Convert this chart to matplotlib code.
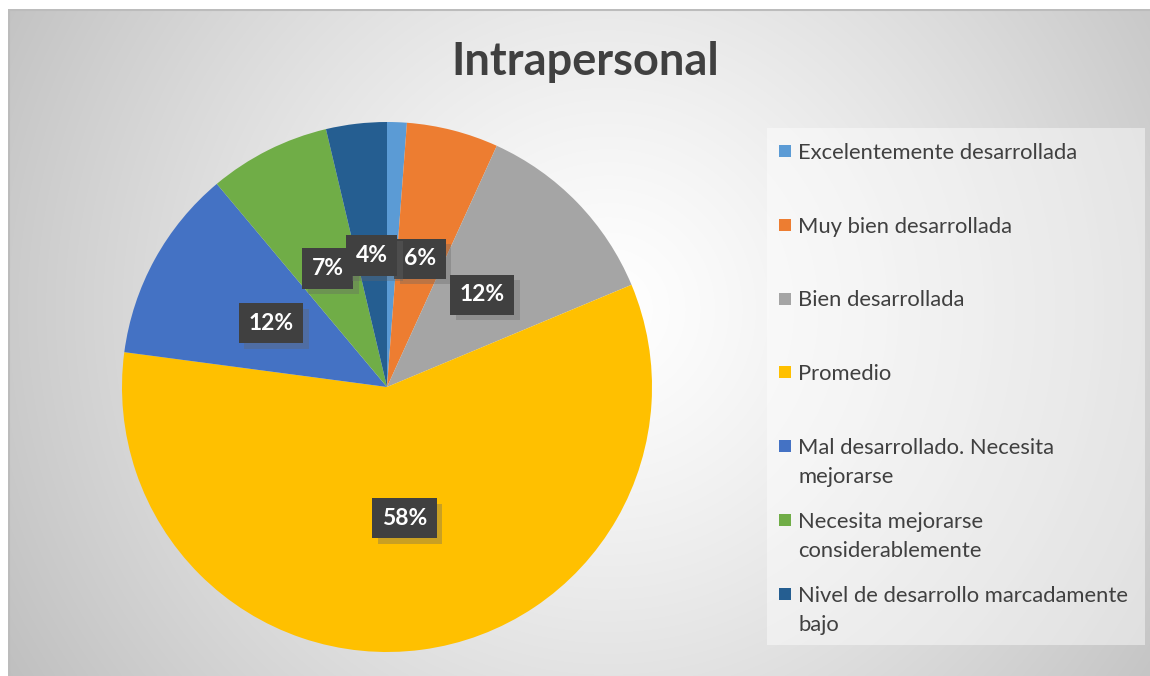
import numpy as np
import matplotlib
matplotlib.use("Agg")
import matplotlib.pyplot as plt
from matplotlib.patches import Rectangle
import matplotlib.patheffects as pe

plt.rcParams['font.family'] = ['Lato', 'DejaVu Sans']

title = "Intrapersonal"
categories = ["Excelentemente desarrollada", "Muy bien desarrollada", "Bien desarrollada",
              "Promedio", "Mal desarrollado. Necesita\nmejorarse",
              "Necesita mejorarse\nconsiderablemente",
              "Nivel de desarrollo marcadamente\nbajo"]
values = [1.2, 5.6, 11.9, 58.4, 11.8, 7.4, 3.7]
colors = ["#5B9BD5", "#ED7D31", "#A5A5A5", "#FFC000", "#4472C4", "#70AD47", "#255E91"]

W, H = 1150, 676
fig = plt.figure(figsize=(W / 100, H / 100), dpi=100)
fig.patch.set_facecolor("white")

# background with radial gradient
bx0, by_top = 8, 9
ax_bg = fig.add_axes([bx0 / W, 0, 1 - bx0 / W, 1 - by_top / H])
ax_bg.set_axis_off()
gw, gh = W - bx0, H - by_top
yy, xx = np.mgrid[0:gh, 0:gw]
cx, cy = 600, 300
d = np.sqrt((xx - cx) ** 2 + (yy - cy) ** 2) / 660.0
v = 1.0 - 0.23 * np.clip(d, 0, 1.1) ** 1.25
img = np.dstack([v, v, v])
ax_bg.imshow(img, aspect="auto", extent=[0, gw, gh, 0], interpolation="bilinear")
ax_bg.set_xlim(0, gw)
ax_bg.set_ylim(gh, 0)
ax_bg.plot([0, gw], [0.5, 0.5], color="#bcbcbc", lw=1.5)
ax_bg.plot([0.5, 0.5], [0, gh], color="#bcbcbc", lw=1.5)

# legend box (semi transparent white)
ax_bg.add_patch(Rectangle((767 - bx0, 128 - by_top), 1145 - 767, 645 - 128,
                          facecolor="white", alpha=0.45, edgecolor="none"))

# pie
cxp, cyp, r = 387, 387, 265
ax = fig.add_axes([(cxp - r) / W, (H - cyp - r) / H, 2 * r / W, 2 * r / H])
wedges, texts, autotexts = ax.pie(values, colors=colors, startangle=90, counterclock=False,
                                  autopct=lambda p: f"{p:.0f}%", pctdistance=0.5,
                                  wedgeprops=dict(linewidth=0))
ax.set_xlim(-1, 1)
ax.set_ylim(-1, 1)
ax.set_aspect("equal")
for i, t in enumerate(autotexts):
    if values[i] < 2:
        t.set_visible(False)
        continue
    t.set_color("white")
    t.set_fontweight("bold")
    t.set_fontsize(16.5)
    t.set_bbox(dict(boxstyle="square,pad=0.42", facecolor="#404040", edgecolor="none"))
    t.get_bbox_patch().set_path_effects([
        pe.SimplePatchShadow(offset=(4, -4), alpha=0.35, shadow_rgbFace="#666666"),
        pe.Normal()])

# title
fig.text(585 / W, 1 - 62 / H, title, ha="center", va="center", fontsize=32.5,
         fontweight="bold", color="#404040")

# legend (manual)
step = 73.8
line_h = 29
fs = 15.8
cap = 0.72 * fs * 100 / 72
for i, (lab, c) in enumerate(zip(categories, colors)):
    ytop = 151 + i * step
    fig.patches.append(Rectangle((779 / W, 1 - (ytop + 6) / H), 12 / W, 12 / H,
                                 transform=fig.transFigure, facecolor=c, edgecolor="none"))
    for j, line in enumerate(lab.split("\n")):
        yb = ytop + cap / 2 + j * line_h
        fig.text(798 / W, 1 - yb / H, line, ha="left", va="baseline", fontsize=fs,
                 color="#404040")

fig.savefig("out.png", dpi=100)
